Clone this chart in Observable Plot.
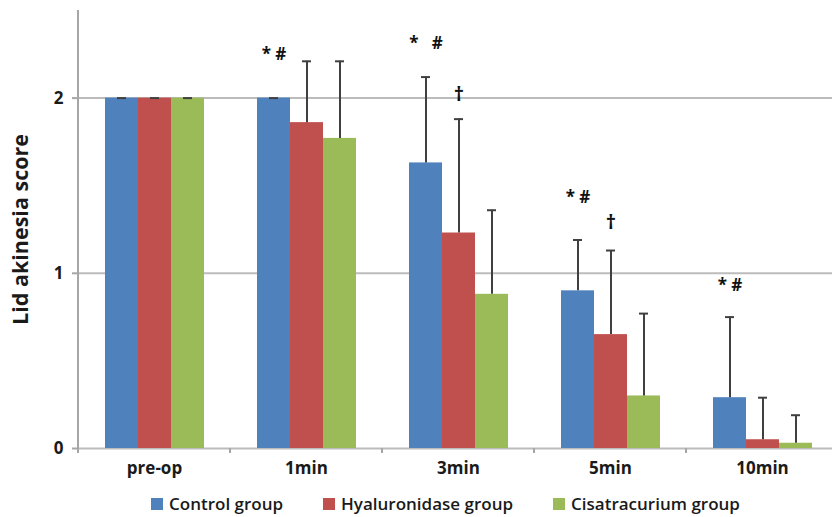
<!DOCTYPE html>
<html><head><meta charset="utf-8">
<script src="https://cdn.jsdelivr.net/npm/d3@7"></script>
<script src="https://cdn.jsdelivr.net/npm/@observablehq/plot@0.6"></script>
<style>
body{margin:0;background:#fff;font-family:"Open Sans",sans-serif;}
#wrap{position:relative;width:832px;height:517px;overflow:hidden;}
#legend{position:absolute;left:151px;top:493px;display:flex;align-items:center;gap:40px;font-weight:600;font-size:17px;color:#1a1a1a;line-height:22px;}
.item{display:flex;align-items:center;gap:6px}
.sw{width:12px;height:12px;display:inline-block}
</style></head><body><div id="wrap"></div>
<script>
const times = ["pre-op", "1min", "3min", "5min", "10min"];
const groups = ["Control group", "Hyaluronidase group", "Cisatracurium group"];
const colors = ["#4f81bd", "#c0504d", "#9bbb59"];
const controlMean  = [2, 2,    1.63, 0.90, 0.29];
const controlUpper = [2, 2,    2.12, 1.19, 0.75];
const hyalMean     = [2, 1.86, 1.23, 0.65, 0.05];
const hyalUpper    = [2, 2.21, 1.88, 1.13, 0.29];
const cisMean      = [2, 1.77, 0.88, 0.30, 0.03];
const cisUpper     = [2, 2.21, 1.36, 0.77, 0.19];
const yTicks = [0, 1, 2];
const annTime  = ["1min", "3min", "3min", "5min", "5min", "10min"];
const annGroup = ["Control group", "Control group", "Hyaluronidase group", "Control group", "Hyaluronidase group", "Control group"];
const annText  = ["* #", "*   #", "†", "* #", "†", "* #"];
const annY     = [2.25, 2.31, 2.02, 1.43, 1.29, 0.93];

const means = [controlMean, hyalMean, cisMean];
const uppers = [controlUpper, hyalUpper, cisUpper];
const data = [];
times.forEach((t, i) => groups.forEach((g, j) => data.push({time: t, group: g, value: means[j][i], upper: uppers[j][i]})));
const ann = annTime.map((t, i) => ({time: t, group: annGroup[i], text: annText[i], y: annY[i]}));
const annStars = ann.filter(d => d.text !== "†");
const annDaggers = ann.filter(d => d.text === "†");

const chart = Plot.plot({
  width: 832, height: 482,
  marginLeft: 78, marginRight: 0, marginTop: 10, marginBottom: 34,
  style: {fontFamily: "Open Sans", background: "#fff", overflow: "visible"},
  fx: {domain: times, range: [78, 838], padding: 0, label: null, axis: null},
  x: {domain: groups, paddingInner: 0, paddingOuter: 0.75, axis: null},
  y: {domain: [0, 2.5], axis: null},
  color: {domain: groups, range: colors},
  marks: [
    Plot.ruleY(yTicks, {stroke: "#bcbcbc", strokeWidth: 2}),
    Plot.axisY({ticks: yTicks, tickSize: 6, tickPadding: 9, fontSize: 17, fontWeight: "bold", stroke: "#a6a6a6", strokeWidth: 2, fill: "#1a1a1a", label: null, tickFormat: d => String(d)}),
    Plot.axisY({ticks: [], tickSize: 0, label: "Lid akinesia score", labelAnchor: "center", labelArrow: "none", labelOffset: 66, fontSize: 21.5, fontWeight: "bold", fill: "#1a1a1a"}),
    Plot.barY(data, {fx: "time", x: "group", y: "value", fill: "group"}),
    Plot.ruleX(data.filter(d => d.upper > d.value), {fx: "time", x: "group", y1: "value", y2: "upper", stroke: "#404040", strokeWidth: 2}),
    Plot.tickY(data, {fx: "time", x: "group", y: "upper", stroke: "#404040", strokeWidth: 2, insetLeft: 12, insetRight: 12}),
    Plot.text(annStars, {fx: "time", x: "group", y: "y", text: "text", fontSize: 17, fontWeight: "bold", fill: "#111"}),
    Plot.text(annDaggers, {fx: "time", x: "group", y: "y", text: "text", fontSize: 20, fontWeight: "bold", fill: "#111"}),
    Plot.axisFx({anchor: "bottom", tickSize: 0, tickPadding: 13, fontSize: 17, fontWeight: "bold", fill: "#1a1a1a", label: null})
  ]
});

document.getElementById("wrap").appendChild(chart);

// Excel-style axis line and category boundary ticks, from the plot's scales
const fx = chart.scale("fx"), y = chart.scale("y");
const svg = d3.select(chart);
const g = svg.append("g").attr("stroke", "#a6a6a6").attr("stroke-width", 2);
const x0 = fx.range[0];
g.append("line").attr("x1", x0).attr("x2", x0).attr("y1", y.apply(2.5)).attr("y2", y.apply(0) + 5);
times.forEach(t => {
  const xb = fx.apply(t);
  g.append("line").attr("x1", xb).attr("x2", xb).attr("y1", y.apply(0)).attr("y2", y.apply(0) + 5);
});

// legend
const leg = d3.select("#wrap").append("div").attr("id", "legend");
groups.forEach((gname, i) => {
  const it = leg.append("div").attr("class", "item");
  it.append("span").attr("class", "sw").style("background", colors[i]);
  it.append("span").text(gname);
});
</script>
</body></html>
